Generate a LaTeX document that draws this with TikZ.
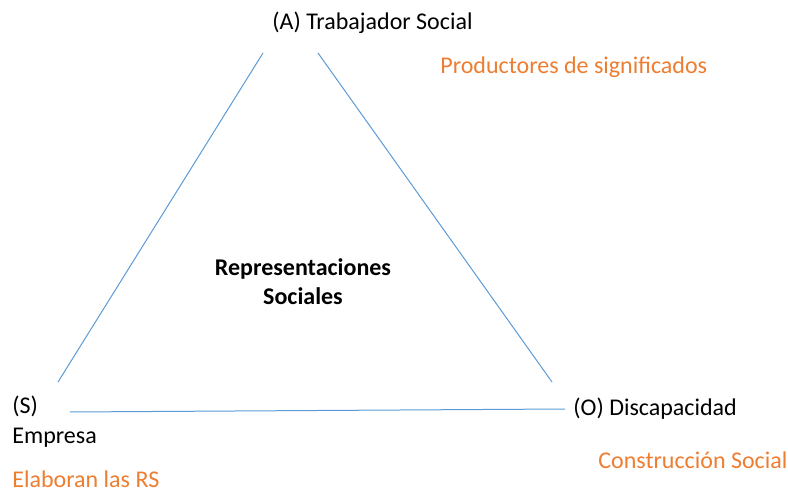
\documentclass[tikz,border=0pt]{standalone}
\usepackage{fontspec}
\setmainfont{Carlito}
\usepackage{tikz}
\usetikzlibrary{positioning}
\definecolor{lineblue}{RGB}{91,155,213}
\definecolor{accent}{RGB}{237,125,49}

\begin{document}
\begin{tikzpicture}[
    x=0.5pt, y=-0.5pt,
    label/.style={inner sep=0pt, font=\fontsize{12}{14}\selectfont, anchor=base west},
    note/.style={label, text=accent},
    side/.style={draw=lineblue, line width=0.5pt}
]
    \useasboundingbox (0,0) rectangle (788,492);
    % corners of the triangle
    \coordinate (topL) at (263,53);
    \coordinate (topR) at (318,53);
    \coordinate (botL) at (58,382);
    \coordinate (botR) at (552,382);
    \coordinate (baseL) at (70,412);
    \coordinate (baseR) at (565,409);
    \draw[side] (botL) -- (topL);
    \draw[side] (topR) -- (botR);
    \draw[side] (baseL) -- (baseR);
    % labels
    \node[label] (agent) at (272,30) {(A) Trabajador Social};
    \node[note] (producers) at (440,74) {Productores de significados};
    \node[label, anchor=base, font=\fontsize{12}{14}\selectfont\bfseries] (rs1) at (303,275) {Representaciones};
    \node[label, anchor=base, font=\fontsize{12}{14}\selectfont\bfseries] (rs2) at (303,305) {Sociales};
    \node[label] (subj) at (12,413) {(S)};
    \node[label] (firm) at (12,443) {Empresa};
    \node[note] (elab) at (12,487) {Elaboran las RS};
    \node[label] (obj) at (573,415) {(O) Discapacidad};
    \node[note] (constr) at (598,468) {Construcción Social};
\end{tikzpicture}
\end{document}
